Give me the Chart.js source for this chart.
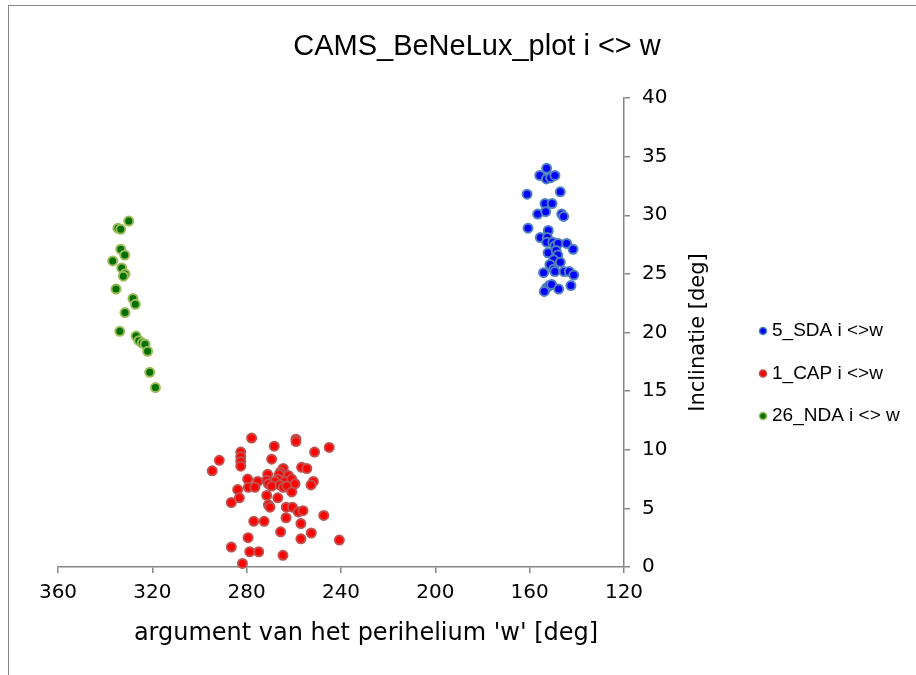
<!DOCTYPE html>
<html><head><meta charset="utf-8">
<script src="https://cdn.jsdelivr.net/npm/chart.js@4"></script>
<style>
html,body{margin:0;padding:0;background:#fff;overflow:hidden;}
#wrap{position:relative;width:916px;height:675px;overflow:hidden;}
#frame{position:absolute;left:8px;top:5px;width:1000px;height:1000px;border:1px solid #868686;box-sizing:border-box;}
canvas{position:absolute;left:0;top:0;}
</style></head>
<body><div id="wrap"><div id="frame"></div><canvas id="c" width="916" height="675"></canvas></div>
<script>
const chartTitle = 'CAMS_BeNeLux_plot i <> w';
const xAxisTitle = "argument van het perihelium 'w' [deg]";
const yAxisTitle = 'Inclinatie [deg]';
const seriesNames = ['5_SDA i <>w', '1_CAP i <>w', '26_NDA i <> w'];
const xTicks = [360, 320, 280, 240, 200, 160, 120];
const yTicks = [0, 5, 10, 15, 20, 25, 30, 35, 40];

const sdaW = [152.8,155.7,152.9,151.1,149.3,161.1,147.0,153.5,150.5,156.6,153.2,146.4,145.6,160.7,152.1,155.5,152.5,152.8,150.2,149.3,147.9,144.3,141.6,152.2,148.8,148.1,149.8,151.4,147.0,154.1,149.8,149.3,145.4,143.2,141.3,152.8,151.7,150.7,153.8,147.7,142.5];
const sdaI = [34.0,33.4,33.1,33.2,33.4,31.8,32.0,31.0,31.0,30.1,30.3,30.1,29.9,28.9,28.7,28.1,28.1,27.7,27.7,27.4,27.6,27.6,27.1,26.8,27.0,26.6,26.2,25.8,26.0,25.1,25.4,25.2,25.2,25.2,24.9,23.8,24.0,24.1,23.5,23.7,24.0];

const capW = [277.9,259.1,259.1,268.3,245.0,251.2,282.5,282.5,282.5,282.5,291.6,269.4,294.6,256.7,254.5,264.5,265.7,266.2,271.1,262.3,279.6,275.3,271.5,266.8,268.0,263.7,260.9,251.7,252.7,259.5,270.8,269.4,265.9,264.5,263.0,279.3,276.5,260.9,283.8,286.5,283.1,271.5,266.8,270.8,270.1,263.2,260.6,258.1,256.1,247.3,277.0,272.6,263.3,257.0,265.6,252.6,257.0,279.4,240.7,286.5,278.7,274.9,264.6,281.8];
const capI = [11.0,10.9,10.7,10.3,10.2,9.8,9.8,9.4,9.0,8.6,9.1,9.2,8.2,8.5,8.4,8.4,8.1,7.9,7.9,7.8,7.5,7.3,7.4,7.5,7.3,7.3,7.5,7.3,7.0,7.1,7.1,6.9,7.0,6.8,6.9,6.8,6.8,6.4,6.6,5.5,5.9,6.1,5.9,5.3,5.1,5.1,5.1,4.7,4.8,4.4,3.9,3.9,4.2,3.7,3.0,2.9,2.4,2.5,2.3,1.7,1.3,1.3,1.0,0.3];

const ndaW = [330.0,334.6,333.4,333.4,331.7,336.8,333.0,331.6,332.3,335.4,328.2,327.2,331.6,333.8,326.9,325.7,324.3,323.1,322.0,321.1,318.7];
const ndaI = [29.5,28.9,28.8,27.1,26.6,26.1,25.5,25.0,24.8,23.7,22.9,22.4,21.7,20.1,19.7,19.3,19.1,19.0,18.4,16.6,15.3];

const fills = ['#0000FF', '#FF0000', '#007000'];
const borders = ['#4F81BD', '#C0504D', '#9BBB59'];

function pts(W, I) { return W.map((w, k) => ({x: w, y: I[k]})); }
const seriesData = [pts(sdaW, sdaI), pts(capW, capI), pts(ndaW, ndaI)];

const datasets = seriesData.map((d, k) => ({
  label: seriesNames[k],
  data: d,
  backgroundColor: fills[k],
  borderColor: borders[k],
  borderWidth: 2,
  pointRadius: 4.5,
  pointHoverRadius: 4.5,
  clip: false
}));

const textPlugin = {
  id: 'texts',
  afterDraw(chart) {
    const ctx = chart.ctx;
    const a = chart.chartArea;
    ctx.save();
    ctx.fillStyle = '#000';
    ctx.textBaseline = 'middle';
    ctx.textAlign = 'center';
    ctx.font = '29px "Liberation Sans", Arial, sans-serif';
    ctx.fillText(chartTitle, 477, 47);
    ctx.font = '24px "DejaVu Sans", sans-serif';
    ctx.fillText(xAxisTitle, 366, 634);
    ctx.save();
    ctx.translate(699, (a.top + a.bottom) / 2);
    ctx.rotate(-Math.PI / 2);
    ctx.font = '21px "DejaVu Sans", sans-serif';
    ctx.fillText(yAxisTitle, 0, 0);
    ctx.restore();
    // legend
    ctx.textAlign = 'left';
    ctx.font = '19px "Liberation Sans", Arial, sans-serif';
    chart.data.datasets.forEach((ds, k) => {
      const y = 331 + 42.5 * k;
      ctx.beginPath();
      ctx.arc(763, y, 3.5, 0, Math.PI * 2);
      ctx.fillStyle = ds.backgroundColor;
      ctx.fill();
      ctx.lineWidth = 1.5;
      ctx.strokeStyle = ds.borderColor;
      ctx.stroke();
      ctx.fillStyle = '#000';
      ctx.fillText(ds.label, 772, y);
    });
    ctx.restore();
  }
};

const axisColor = '#868686';
new Chart(document.getElementById('c'), {
  type: 'scatter',
  data: { datasets },
  options: {
    responsive: false,
    animation: false,
    devicePixelRatio: 1,
    layout: { padding: { left: 58, top: 98, right: 0, bottom: 0 } },
    plugins: { legend: { display: false }, title: { display: false }, tooltip: { enabled: false } },
    scales: {
      x: {
        type: 'linear', reverse: true, min: 120, max: 360, position: 'bottom',
        afterBuildTicks: s => { s.ticks = xTicks.map(v => ({ value: v })); },
        afterFit: s => { s.height = 108; },
        ticks: { color: '#000', font: { family: 'DejaVu Sans', size: 20 }, padding: 8, maxRotation: 0, autoSkip: false },
        grid: { drawOnChartArea: false, drawTicks: true, tickLength: 6, color: axisColor, lineWidth: 1.5 },
        border: { display: true, color: axisColor, width: 1.5 }
      },
      y: {
        type: 'linear', min: 0, max: 40, position: 'right',
        afterBuildTicks: s => { s.ticks = yTicks.map(v => ({ value: v })); },
        afterFit: s => { s.width = 292; },
        ticks: { color: '#000', font: { family: 'DejaVu Sans', size: 20 }, padding: 12, autoSkip: false },
        grid: { drawOnChartArea: false, drawTicks: true, tickLength: 6, color: axisColor, lineWidth: 1.5 },
        border: { display: true, color: axisColor, width: 1.5 }
      }
    }
  },
  plugins: [textPlugin]
});
</script>
</body></html>
